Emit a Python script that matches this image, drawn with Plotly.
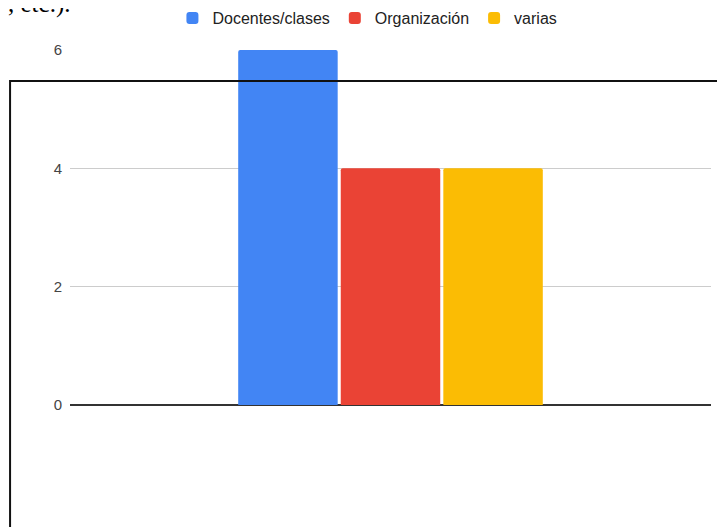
import plotly.graph_objects as go

# Data
category = [""]
series_names = ["Docentes/clases", "Organización", "varias"]
series_values = [6, 4, 4]
series_colors = ["#4285F4", "#EA4335", "#FBBC04"]
y_ticks = [0, 2, 4, 6]

fig = go.Figure()
for name, val, col in zip(series_names, series_values, series_colors):
    fig.add_trace(go.Bar(x=category, y=[val], name=name, marker_color=col,
                         marker_line_width=0))

# page body has an 8px margin, so margins are shifted to compensate
fig.update_layout(
    width=725, height=527,
    plot_bgcolor="white", paper_bgcolor="white",
    font=dict(family="Arial, Liberation Sans, sans-serif", size=15, color="#222"),
    margin=dict(l=62, r=22, t=42, b=130, autoexpand=False),
    barmode="group", bargap=0.52, bargroupgap=0.03, barcornerradius=2,
    showlegend=True,
    legend=dict(orientation="h", x=0.464, xanchor="center", y=1.09, yanchor="middle",
                font=dict(size=16, color="#222"), itemwidth=30, traceorder="normal"),
    xaxis=dict(showticklabels=False, showgrid=False, zeroline=False, showline=False),
    yaxis=dict(range=[0, 6], tickvals=y_ticks, showgrid=True, gridcolor="#cccccc",
               gridwidth=1, zeroline=True, zerolinecolor="#333333", zerolinewidth=1.5,
               showline=False, ticks="", ticklen=0, automargin=False,
               ticklabelstandoff=7, tickfont=dict(size=15, color="#444")),
)

# surrounding document text and frame overlapping the chart
fig.add_annotation(text=", etc.).", xref="paper", yref="paper", x=-0.1005, y=1.129,
                   xanchor="left", yanchor="middle", showarrow=False,
                   font=dict(family="Liberation Serif, Times New Roman, serif",
                             size=25, color="#000"))
fig.add_shape(type="rect", xref="paper", yref="paper", x0=-0.0935, x1=1.2,
              y0=-0.6, y1=0.9127, line=dict(color="#111", width=2), layer="above")

fig.write_html("out.html")
